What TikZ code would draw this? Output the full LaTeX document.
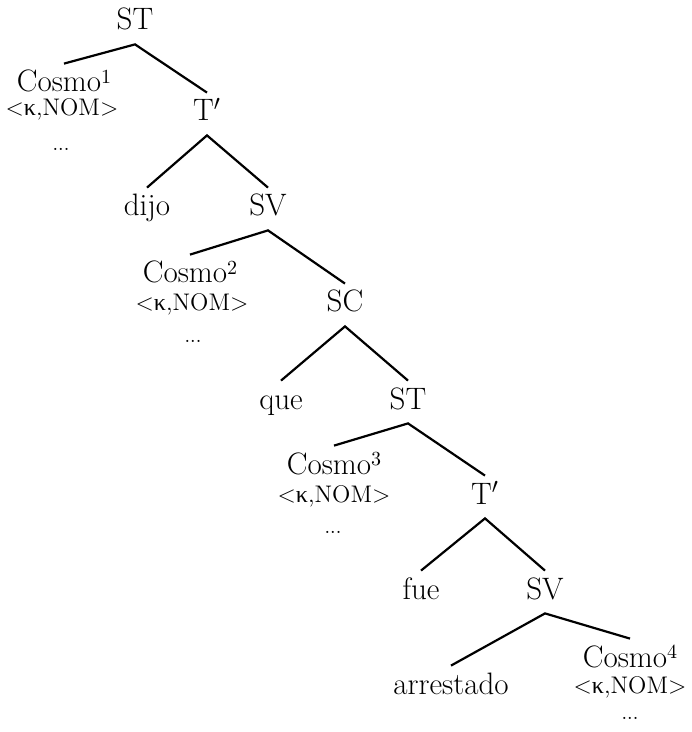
\documentclass[tikz,border=0pt]{standalone}
\usepackage{fontspec}
\newfontfamily\grk{Liberation Serif}
\tikzset{
  lbl/.style={font=\fontsize{15.5}{18}\selectfont, text height=10pt, text depth=3pt,
              inner xsep=1pt, inner ysep=4pt, anchor=base},
  feat/.style={font=\fontsize{12}{14}\selectfont, inner sep=0pt, anchor=base},
  dotsnode/.style={font=\fontsize{10}{12}\selectfont, inner sep=0pt, anchor=base},
  br/.style={line width=1.1pt}
}
\newcommand{\kfeat}{<{\grk κ},NOM>}
\newcommand{\sups}[1]{\raisebox{4.2pt}{\fontsize{10}{11}\selectfont #1}}
\begin{document}
\begin{tikzpicture}[x=0.5pt,y=-0.5pt]
\useasboundingbox (0,0) rectangle (691,732);
% level 0/1
\node[lbl] (st1) at (135,30) {ST};
\node[lbl] (c1) at (64,92) {Cosmo\sups{1}};
\node[feat] (f1) at (62,116) {\kfeat};
\node[dotsnode] (d1) at (61,151) {...};
\node[lbl] (tp1) at (207,121) {T$'$};
% level 2/3
\node[lbl] (dijo) at (147,216) {dijo};
\node[lbl] (sv1) at (268,216) {SV};
\node[lbl] (c2) at (190,283) {Cosmo\sups{2}};
\node[feat] (f2) at (192,310) {\kfeat};
\node[dotsnode] (d2) at (193,342) {...};
\node[lbl] (sc) at (345,312) {SC};
% level 4/5
\node[lbl] (que) at (281,409) {que};
\node[lbl] (st2) at (408,409) {ST};
\node[lbl] (c3) at (334,474) {Cosmo\sups{3}};
\node[feat] (f3) at (334,502) {\kfeat};
\node[dotsnode] (d3) at (333,533) {...};
\node[lbl] (tp2) at (485,504) {T$'$};
% level 6/7
\node[lbl] (fue) at (421,599) {fue};
\node[lbl] (sv2) at (545,599) {SV};
\node[lbl] (arr) at (451,694) {arrestado};
\node[lbl] (c4) at (630,667) {Cosmo\sups{4}};
\node[feat] (f4) at (630,693) {\kfeat};
\node[dotsnode] (d4) at (630,719) {...};
% branches
\draw[br] (c1.north) -- (st1.south) -- (tp1.north);
\draw[br] (dijo.north) -- (tp1.south) -- (sv1.north);
\draw[br] (c2.north) -- (sv1.south) -- (sc.north);
\draw[br] (que.north) -- (sc.south) -- (st2.north);
\draw[br] (c3.north) -- (st2.south) -- (tp2.north);
\draw[br] (fue.north) -- (tp2.south) -- (sv2.north);
\draw[br] (arr.north) -- (sv2.south) -- (c4.north);
\end{tikzpicture}
\end{document}
